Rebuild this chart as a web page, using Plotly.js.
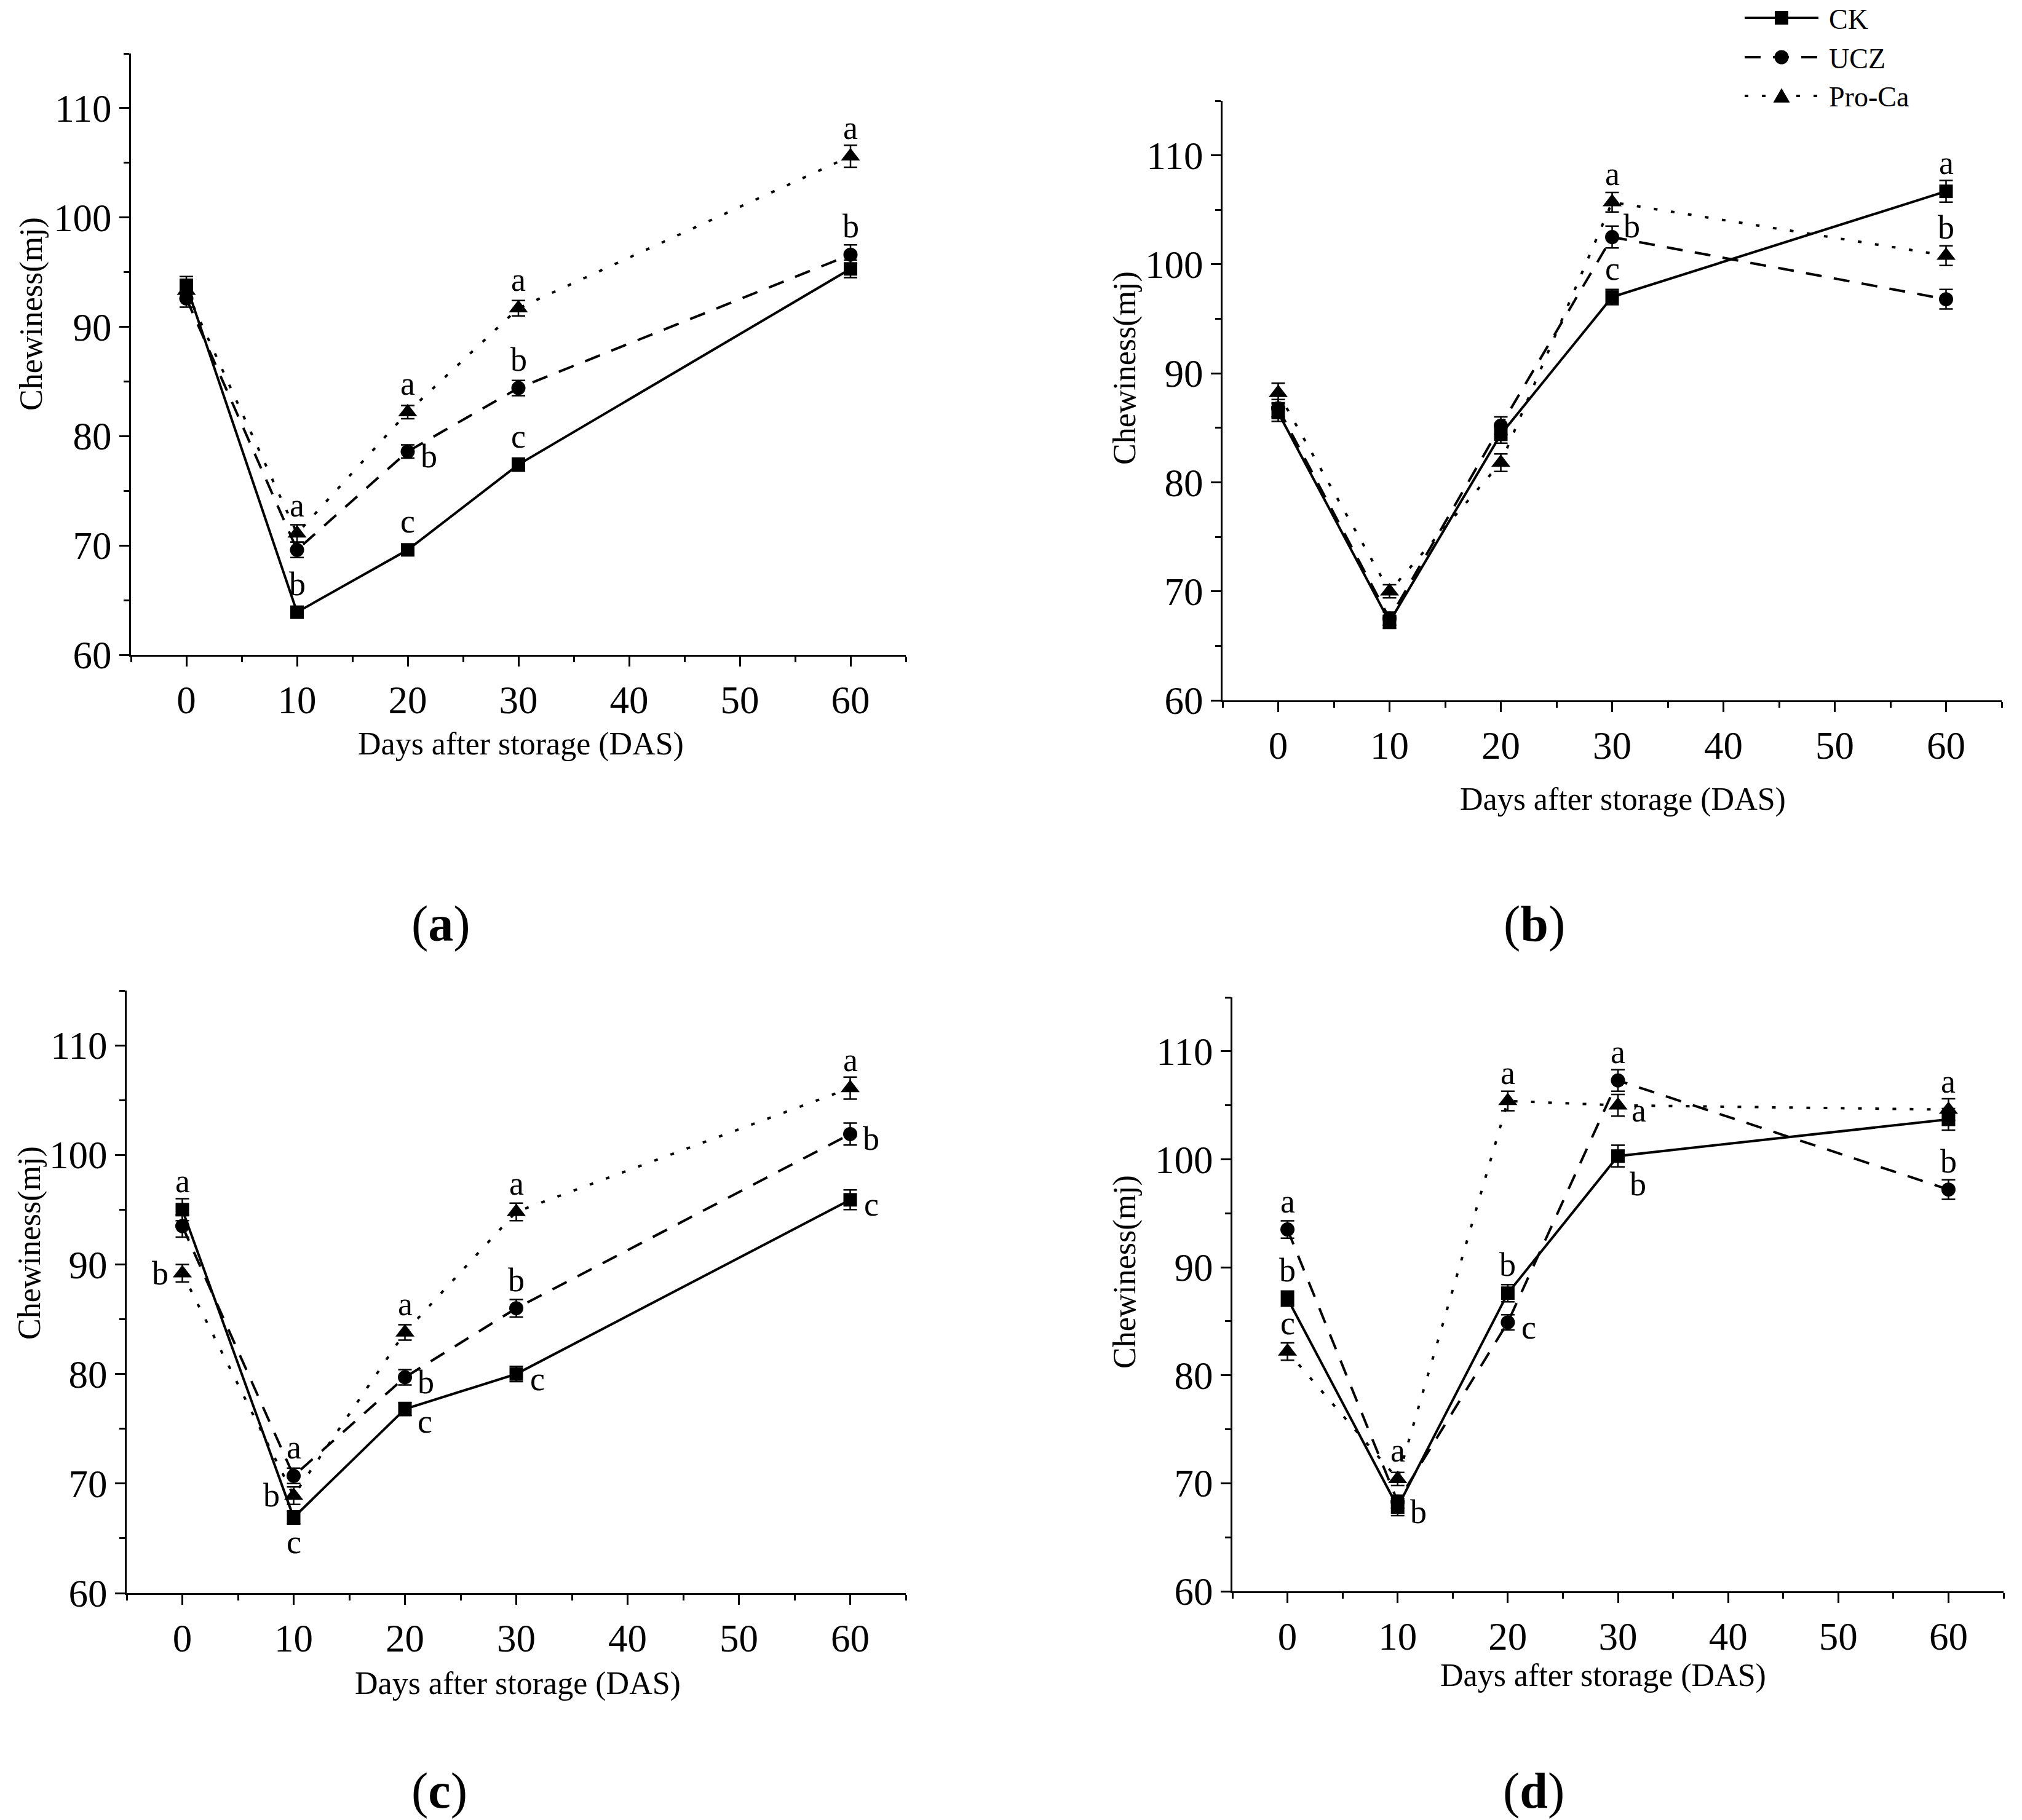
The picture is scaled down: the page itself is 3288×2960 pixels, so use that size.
<!DOCTYPE html>
<html>
<head>
<meta charset="utf-8">
<script src="https://cdn.plot.ly/plotly-3.0.1.min.js"></script>
<style>
  body { margin: 0; background: #fff; }
  #plot1 { width: 3288px; height: 2960px; }
</style>
</head>
<body>
<div id="plot1"></div>
<script>
/////////////////////////////////////////////  data  /////////////////////////////////////////////////////////
var days = [0, 10, 20, 30, 60];
var seriesNames = ['CK', 'UCZ', 'Pro-Ca'];
var panelNames = ['a', 'b', 'c', 'd'];

// (a)
var ckA  = [93.8, 63.9, 69.6, 77.4, 95.3];
var uczA = [92.6, 69.6, 78.6, 84.4, 96.6];
var proA = [93.3, 71.1, 82.2, 91.7, 105.6];
var errCkA  = [0.8, 0.5, 0.5, 0.6, 0.8];
var errUczA = [0.8, 0.7, 0.6, 0.7, 0.9];
var errProA = [0.9, 0.8, 0.6, 0.7, 1.0];
var letCkA  = ['', 'b', 'c', 'c', ''];
var letUczA = ['', '', 'b', 'b', 'b'];
var letProA = ['', 'a', 'a', 'a', 'a'];

// (b)
var ckB  = [86.4, 67.2, 84.4, 97.0, 106.7];
var uczB = [86.8, 67.5, 85.2, 102.5, 96.8];
var proB = [88.2, 70.0, 81.8, 105.7, 100.8];
var errCkB  = [0.8, 0.6, 0.8, 0.7, 1.0];
var errUczB = [0.8, 0.6, 0.8, 1.0, 0.9];
var errProB = [0.9, 0.6, 0.8, 0.9, 0.9];
var letCkB  = ['', '', '', 'c', 'a'];
var letUczB = ['', '', '', 'b', ''];
var letProB = ['', '', '', 'a', 'b'];

// (c)
var ckC  = [95.0, 66.9, 76.8, 80.0, 95.9];
var uczC = [93.5, 70.7, 79.7, 86.0, 101.9];
var proC = [89.2, 68.9, 83.8, 94.8, 106.1];
var errCkC  = [1.0, 0.6, 0.6, 0.7, 0.9];
var errUczC = [1.0, 0.7, 0.7, 0.8, 1.0];
var errProC = [0.8, 0.8, 0.7, 0.8, 1.0];
var letCkC  = ['a', 'c', 'c', 'c', 'c'];
var letUczC = ['', 'a', 'b', 'b', 'b'];
var letProC = ['b', 'b', 'a', 'a', 'a'];

// (d)
var ckD  = [87.1, 67.8, 87.6, 100.3, 103.7];
var uczD = [93.5, 68.3, 84.9, 107.3, 97.2];
var proD = [82.2, 70.4, 105.4, 105.0, 104.6];
var errCkD  = [0.7, 0.8, 0.8, 1.0, 1.0];
var errUczD = [0.8, 0.6, 0.7, 1.0, 0.9];
var errProD = [0.8, 0.6, 0.9, 1.0, 1.0];
var letCkD  = ['b', 'b', 'b', 'b', ''];
var letUczD = ['a', '', 'c', 'a', 'b'];
var letProD = ['c', 'a', 'a', 'a', 'a'];

// where each letter sits next to its point
var posCk  = {a: ['', 't', 't', 't', ''],  b: ['', '', '', 't', 't'],  c: ['t', 'b', 'br', 'r', 'r'], d: ['t', 'r', 't', 'bbr', '']};
var posUcz = {a: ['', '', 'r', 't', 't'],  b: ['', '', '', 'tr', ''],  c: ['', 't', 'r', 't', 'r'],   d: ['t', '', 'r', 't', 't']};
var posPro = {a: ['', 't', 't', 't', 't'], b: ['', '', '', 't', 't'],  c: ['l', 'l', 't', 't', 't'],  d: ['t', 't', 't', 'r', 't']};

/////////////////////////////////////////////  layout helpers  /////////////////////////////////////////////////////////
var W = 3288, H = 2960;
var FONT = 'Liberation Serif, Times New Roman, serif';

// panel boxes in px: [left, right, top, bottom]
var boxes = {
  a: [213, 1473, 87, 1065],
  b: [1988, 3255, 164, 1139],
  c: [206, 1473, 1611, 2591],
  d: [2004, 3258, 1622, 2588]
};
// axis title centers in px
var yTitlePos = {a: [51, 511], b: [1829, 598], c: [48, 2022], d: [1829, 2068]};
var xTitlePos = {a: [847, 1210], b: [2639, 1300], c: [842, 2738], d: [2607, 2725]};
var panelLabelPos = {a: [717, 1502], b: [2495, 1502], c: [714, 2912], d: [2494, 2912]};

// legend key rows (px): line from x0 to x1, text at tx, row centers
var legendKey = {x0: 2837, x1: 2957, mx: 2897, tx: 2972, rows: [29, 93, 156]};

var shifts = {
  t: [0, 46], b: [0, -40], l: [-36, 0], r: [34, -8],
  tr: [32, 18], br: [32, -20], bbr: [32, -46]
};

function px2x(p) { return p / W; }
function px2y(p) { return 1 - p / H; }

function makeXAxis(box, anchor) {
  return {
    domain: [px2x(box[0]), px2x(box[1])],
    anchor: anchor,
    range: [-5, 65],
    tick0: 0, dtick: 10,
    ticks: 'outside', ticklen: 16, tickwidth: 3, tickcolor: '#000',
    minor: {ticks: 'outside', ticklen: 9, tickwidth: 3, tickcolor: '#000', dtick: 5, tick0: 0},
    showline: true, linewidth: 3, linecolor: '#000',
    showgrid: false, zeroline: false,
    tickfont: {family: FONT, size: 63, color: '#000'},
    fixedrange: true
  };
}

function makeYAxis(box, anchor) {
  return {
    domain: [px2y(box[3]), px2y(box[2])],
    anchor: anchor,
    range: [60, 115],
    tick0: 60, dtick: 10,
    ticks: 'outside', ticklen: 16, tickwidth: 3, tickcolor: '#000',
    minor: {ticks: 'outside', ticklen: 9, tickwidth: 3, tickcolor: '#000', dtick: 5, tick0: 60},
    showline: true, linewidth: 3, linecolor: '#000',
    showgrid: false, zeroline: false,
    tickfont: {family: FONT, size: 63, color: '#000'},
    fixedrange: true
  };
}

var styles = {
  'CK':     {dash: 'solid',     symbol: 'square',      size: 22},
  'UCZ':    {dash: '26px,20px', symbol: 'circle',      size: 23},
  'Pro-Ca': {dash: '6px,22px',  symbol: 'triangle-up', size: 27}
};

function makeTrace(name, yValues, errValues, axIdx) {
  var st = styles[name];
  var sfx = axIdx === 1 ? '' : String(axIdx);
  return {
    x: days, y: yValues,
    name: name, showlegend: false,
    type: 'scatter', mode: 'lines+markers',
    xaxis: 'x' + sfx, yaxis: 'y' + sfx,
    line: {color: '#000', width: 4, dash: st.dash},
    marker: {color: '#000', symbol: st.symbol, size: st.size, line: {width: 0}},
    error_y: {type: 'data', array: errValues, visible: true, color: '#000', thickness: 2.5, width: 11},
    cliponaxis: false
  };
}

function letterAnnotations(values, letters, pos, axIdx) {
  var sfx = axIdx === 1 ? '' : String(axIdx);
  var out = [];
  for (var i = 0; i < days.length; i++) {
    if (!letters[i]) continue;
    var s = shifts[pos[i]];
    out.push({
      x: days[i], y: values[i], xref: 'x' + sfx, yref: 'y' + sfx,
      text: letters[i], showarrow: false,
      xanchor: 'center', yanchor: 'middle',
      xshift: s[0], yshift: s[1],
      font: {family: FONT, size: 54, color: '#000'}
    });
  }
  return out;
}

function paperText(text, p, size, angle, anchor) {
  return {
    x: px2x(p[0]), y: px2y(p[1]), xref: 'paper', yref: 'paper',
    text: text, showarrow: false, xanchor: anchor || 'center', yanchor: 'middle',
    textangle: angle || 0,
    font: {family: FONT, size: size, color: '#000'}
  };
}

// legend key drawn by hand so the line samples are as long as in the figure
function legendShapes() {
  var shapes = [];
  seriesNames.forEach(function (name, i) {
    var cy = legendKey.rows[i];
    var st = styles[name];
    shapes.push({
      type: 'line', xref: 'paper', yref: 'paper',
      x0: px2x(legendKey.x0), x1: px2x(legendKey.x1), y0: px2y(cy), y1: px2y(cy),
      line: {color: '#000', width: 4, dash: st.dash}
    });
    var h = st.size / 2;
    var mk = {xref: 'paper', yref: 'paper', fillcolor: '#000', line: {width: 0}};
    if (st.symbol === 'square') {
      mk.type = 'rect';
      mk.x0 = px2x(legendKey.mx - h); mk.x1 = px2x(legendKey.mx + h);
      mk.y0 = px2y(cy + h); mk.y1 = px2y(cy - h);
    } else if (st.symbol === 'circle') {
      mk.type = 'circle';
      mk.x0 = px2x(legendKey.mx - h); mk.x1 = px2x(legendKey.mx + h);
      mk.y0 = px2y(cy + h); mk.y1 = px2y(cy - h);
    } else {
      mk.type = 'path';
      mk.path = 'M ' + px2x(legendKey.mx - h) + ' ' + px2y(cy + h * 0.8) +
                ' L ' + px2x(legendKey.mx + h) + ' ' + px2y(cy + h * 0.8) +
                ' L ' + px2x(legendKey.mx) + ' ' + px2y(cy - h * 0.95) + ' Z';
    }
    shapes.push(mk);
  });
  return shapes;
}

/////////////////////////////////////////////  build  /////////////////////////////////////////////////////////
var panelData = {
  a: [[ckA, errCkA, letCkA], [uczA, errUczA, letUczA], [proA, errProA, letProA]],
  b: [[ckB, errCkB, letCkB], [uczB, errUczB, letUczB], [proB, errProB, letProB]],
  c: [[ckC, errCkC, letCkC], [uczC, errUczC, letUczC], [proC, errProC, letProC]],
  d: [[ckD, errCkD, letCkD], [uczD, errUczD, letUczD], [proD, errProD, letProD]]
};
var posAll = [posCk, posUcz, posPro];

var dataTemp = [];
var annos = [];
var layoutPanels = {
  width: W, height: H,
  margin: {l: 0, r: 0, t: 0, b: 0},
  paper_bgcolor: '#fff', plot_bgcolor: '#fff',
  font: {family: FONT, color: '#000'},
  showlegend: false
};

panelNames.forEach(function (p, k) {
  var idx = k + 1;
  var sfx = idx === 1 ? '' : String(idx);
  layoutPanels['xaxis' + sfx] = makeXAxis(boxes[p], 'y' + sfx);
  layoutPanels['yaxis' + sfx] = makeYAxis(boxes[p], 'x' + sfx);

  for (var s = 0; s < 3; s++) {
    var d = panelData[p][s];
    dataTemp.push(makeTrace(seriesNames[s], d[0], d[1], idx));
    annos = annos.concat(letterAnnotations(d[0], d[2], posAll[s][p], idx));
  }

  annos.push(paperText('Chewiness(mj)', yTitlePos[p], 52, -90));
  annos.push(paperText('Days after storage (DAS)', xTitlePos[p], 52, 0));
  annos.push(paperText('(<b>' + p + '</b>)', panelLabelPos[p], 82, 0));
});

seriesNames.forEach(function (name, i) {
  annos.push(paperText(name, [legendKey.tx, legendKey.rows[i] + 2], 46, 0, 'left'));
});

layoutPanels.annotations = annos;
layoutPanels.shapes = legendShapes();

Plotly.newPlot('plot1', dataTemp, layoutPanels, {staticPlot: true, displayModeBar: false});
</script>
</body>
</html>
